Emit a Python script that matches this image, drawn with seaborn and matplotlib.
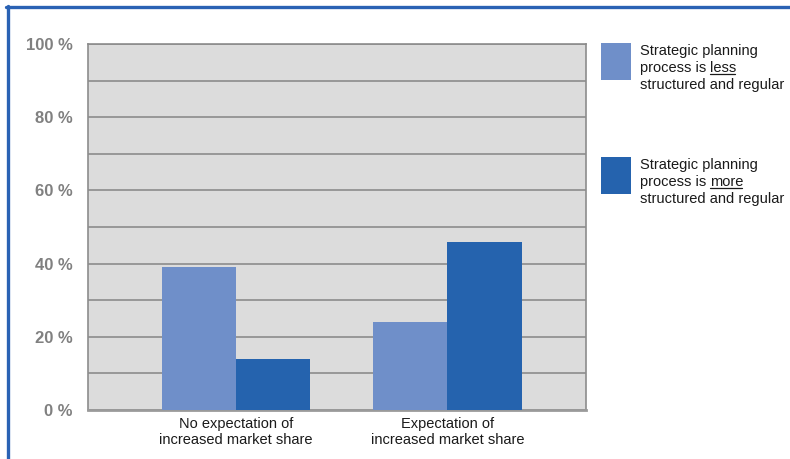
import matplotlib
matplotlib.use("Agg")
import matplotlib.pyplot as plt
from matplotlib.lines import Line2D
from matplotlib.patches import Rectangle
import seaborn as sns
import pandas as pd

categories = ["No expectation of\nincreased market share", "Expectation of\nincreased market share"]
series_names = ["less", "more"]
less_structured = [39, 24]
more_structured = [14, 46]
y_ticks = [0, 20, 40, 60, 80, 100]
y_tick_labels = ["0 %", "20 %", "40 %", "60 %", "80 %", "100 %"]
legend_lines = [
    ("Strategic planning", "process is ", "less", "structured and regular"),
    ("Strategic planning", "process is ", "more", "structured and regular"),
]
colors = ["#6F8FC9", "#2563AE"]

df = pd.DataFrame({
    "category": categories * 2,
    "series": [series_names[0]] * 2 + [series_names[1]] * 2,
    "value": less_structured + more_structured,
})

sns.set_theme(style="white")
plt.rcParams["font.family"] = ["Liberation Sans", "DejaVu Sans"]

fig = plt.figure(figsize=(7.9, 4.59), dpi=100)
ax = fig.add_axes([88 / 790, 49 / 459, 498 / 790, 366 / 459])

sns.barplot(data=df, x="category", y="value", hue="series", order=categories,
            hue_order=series_names, palette=colors, saturation=1, width=0.7,
            legend=False, ax=ax, zorder=3)
for p in ax.patches:
    p.set_edgecolor("none")

ax.set_facecolor("#DCDCDC")
ax.set_ylim(0, 100)
ax.set_xlim(-0.70, 1.655)
ax.set_axisbelow(True)
ax.set_yticks(y_ticks)
ax.set_yticklabels(y_tick_labels)
ax.set_yticks(range(10, 100, 20), minor=True)
ax.yaxis.grid(True, which="both", color="#8C8C8C", linewidth=1.2)
ax.tick_params(axis="y", which="both", length=0, pad=11, labelsize=12,
               labelcolor="#808080")
for lab in ax.get_yticklabels():
    lab.set_fontweight("bold")
ax.tick_params(axis="x", length=0, pad=5, labelsize=10.5, labelcolor="#1A1A1A")
for lab in ax.get_xticklabels():
    lab.set_linespacing(1.15)
ax.set_xlabel("")
ax.set_ylabel("")
for side in ["left", "right", "top", "bottom"]:
    ax.spines[side].set_visible(True)
    ax.spines[side].set_color("#8C8C8C")
    ax.spines[side].set_linewidth(1.2)
ax.spines["bottom"].set_color("#9A9A9A")
ax.spines["bottom"].set_linewidth(2.0)

# legend drawn beside the axes with underlined keywords
W, H = 790, 459
fig.canvas.draw()
renderer = fig.canvas.get_renderer()
box_tops = [43, 157]
for (l1, l2a, l2b, l3), col, top in zip(legend_lines, colors, box_tops):
    fig.add_artist(Rectangle((601 / W, 1 - (top + 37) / H), 30 / W, 37 / H,
                             transform=fig.transFigure, facecolor=col,
                             edgecolor="none"))
    x0 = 640 / W
    ys = [top + 8, top + 25, top + 42.5]
    kw = dict(fontsize=10.5, color="#1A1A1A", va="center", ha="left")
    fig.text(x0, 1 - ys[0] / H, l1, **kw)
    t = fig.text(x0, 1 - ys[1] / H, l2a, **kw)
    bb = t.get_window_extent(renderer)
    t2 = fig.text(bb.x1 / W, 1 - ys[1] / H, l2b, **kw)
    bb2 = t2.get_window_extent(renderer)
    uy = (bb2.y0 + 1.5) / H
    fig.add_artist(Line2D([bb2.x0 / W, (bb2.x1 - 1.5) / W], [uy, uy],
                          transform=fig.transFigure, color="#1A1A1A",
                          linewidth=0.9))
    fig.text(x0, 1 - ys[2] / H, l3, **kw)

# blue frame along the top and left edges
frame_col = "#2A62B4"
fig.add_artist(Line2D([6 / W, 1.0], [1 - 6.5 / H, 1 - 6.5 / H],
                      transform=fig.transFigure, color=frame_col, linewidth=2.4))
fig.add_artist(Line2D([7.5 / W, 7.5 / W], [0, 1 - 5.5 / H],
                      transform=fig.transFigure, color=frame_col, linewidth=2.4))

fig.savefig("out.png", dpi=100, facecolor="white")
